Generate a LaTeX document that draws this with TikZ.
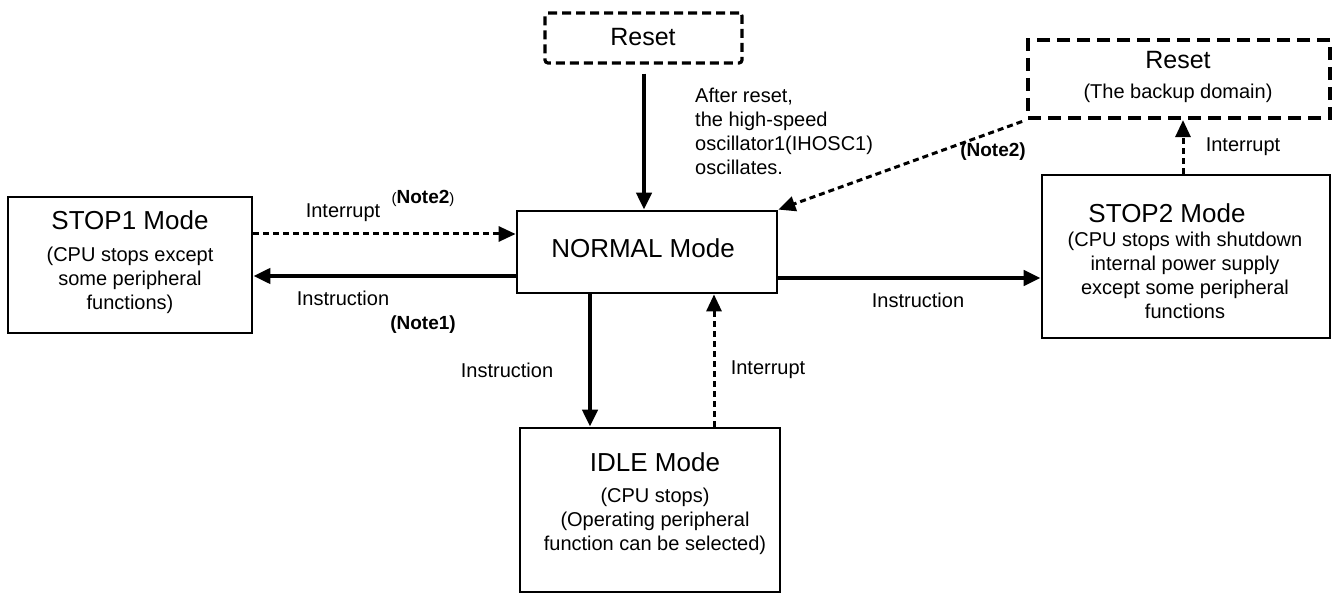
\documentclass[tikz,border=0pt]{standalone}
\usepackage{fontspec}
\setmainfont{Liberation Sans}
\usetikzlibrary{arrows.meta}
\tikzset{
  modebox/.style={draw, line width=2.8pt, minimum width=#1, inner sep=0pt},
  tiny/.style={inner sep=0pt, font=\fontsize{20}{24}\selectfont},
  title/.style={inner sep=0pt, font=\fontsize{26}{30}\selectfont},
  block/.style={inner sep=0pt, align=center, font=\fontsize{20}{24}\selectfont},
  tip/.style={-{Triangle[length=17pt,width=15pt]}},
  solidarrow/.style={tip, line width=4.5pt},
  dotarrow/.style={tip, line width=3pt, dash pattern=on 6pt off 4pt},
}
\begin{document}
\begin{tikzpicture}[x=1pt,y=-1pt]
\useasboundingbox (0,0) rectangle (1335,593);

% reset sources
\node[draw, line width=3.2pt, dash pattern=on 9pt off 5pt, rounded corners=3pt,
      minimum width=197pt, minimum height=50pt] (resetA) at (643.5,38) {};
\node[title, font=\fontsize{25}{30}\selectfont] (resetAtxt) at (643,37) {Reset};

\node[draw, line width=4.2pt, dash pattern=on 13pt off 7pt,
      minimum width=302pt, minimum height=78pt] (resetB) at (1179,79) {};
\node[title, font=\fontsize{25}{30}\selectfont] (resetBtxt) at (1178,60) {Reset};
\node[tiny] (resetBsub) at (1178,93) {(The backup domain)};

% operating modes
\node[modebox=260pt, minimum height=82pt] (normal) at (647,252) {};
\node[title] (normaltxt) at (643,248) {NORMAL Mode};

\node[modebox=244pt, minimum height=136pt] (stop1) at (130,265) {};
\node[title] (stop1txt) at (130,220) {STOP1 Mode};
\node[block] (stop1sub) at (130,280) {(CPU stops except\\some peripheral\\functions)};

\node[modebox=288pt, minimum height=163pt] (stop2) at (1186,256.5) {};
\node[title] (stop2txt) at (1167,213) {STOP2 Mode};
\node[block] (stop2sub) at (1185,275) {(CPU stops with shutdown\\internal power supply\\except some peripheral\\functions};

\node[modebox=260pt, minimum height=164pt] (idle) at (650,510) {};
\node[title] (idletxt) at (655,462) {IDLE Mode};
\node[block] (idlesub) at (655,521) {(CPU stops)\\(Operating peripheral\\function can be selected)};

% transitions
\draw[solidarrow, shorten <=9pt] (resetA.south -| 644,0) -- (normal.north -| 644,0);
\draw[dotarrow, shorten <=4pt] (resetB.south west) -- (normal.north east);
\draw[dotarrow] (stop2.north -| 1183,0) -- (resetB.south -| 1183,0);

\draw[dotarrow] (stop1.east |- 0,234) -- (normal.west |- 0,234);
\draw[solidarrow] (normal.west |- 0,276) -- (stop1.east |- 0,276);
\draw[solidarrow] (normal.east |- 0,278) -- (stop2.west |- 0,278);
\draw[solidarrow] (normal.south -| 590,0) -- (idle.north -| 590,0);
\draw[dotarrow] (idle.north -| 714,0) -- (normal.south -| 714,0);

% labels
\node[block, align=left, anchor=west] (afterreset) at (695,131)
  {After reset,\\the high-speed\\oscillator1(IHOSC1)\\oscillates.};
\node[tiny, font=\fontsize{19}{24}\bfseries] (noteB) at (993,152) {(Note2)};
\node[tiny] (intB) at (1243,147) {Interrupt};
\node[tiny] (instR) at (918,300) {Instruction};
\node[tiny] (intL) at (343,213) {Interrupt};
\node[tiny] (noteL2) at (423,198) {{\fontsize{15}{18}\selectfont(}{\fontsize{19}{24}\bfseries Note2}{\fontsize{15}{18}\selectfont)}};
\node[tiny] (instL) at (343,298) {Instruction};
\node[tiny, font=\fontsize{19}{24}\bfseries] (noteL1) at (423,325) {(Note1)};
\node[tiny] (instD) at (507,370) {Instruction};
\node[tiny] (intU) at (768,370) {Interrupt};
\end{tikzpicture}
\end{document}
